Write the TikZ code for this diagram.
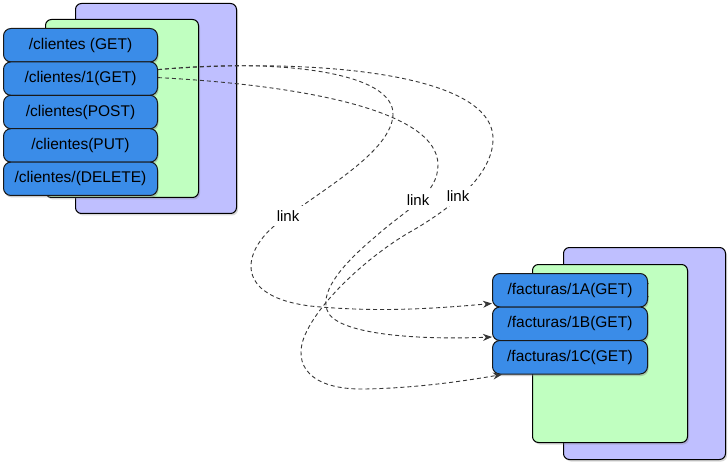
\documentclass[tikz,border=0pt]{standalone}
\usepackage{fontspec}
\setmainfont{Liberation Sans}
\usetikzlibrary{calc,shadows,arrows.meta}
\definecolor{lav}{RGB}{191,191,255}
\definecolor{mint}{RGB}{192,255,192}
\definecolor{blu}{RGB}{58,140,232}
\definecolor{lnk}{RGB}{55,55,55}
\begin{document}
\begin{tikzpicture}[x=1pt,y=-1pt,
  panel/.style={draw=black, line width=1pt, rounded corners=6pt, anchor=north west,
    inner sep=0pt, drop shadow={shadow xshift=1.5pt,shadow yshift=-2pt,opacity=0.3}},
  backpanel/.style={panel, fill=lav},
  frontpanel/.style={panel, fill=mint},
  opbox/.style={draw=black!90, line width=1pt, fill=blu, rounded corners=7.5pt,
    anchor=north west, inner sep=0pt, font=\fontsize{15.5}{18}\selectfont,
    drop shadow={shadow xshift=1pt,shadow yshift=-2pt,opacity=0.4}},
  lnkline/.style={draw=lnk, dash pattern=on 4pt off 3pt, line width=0.9pt},
  arr/.style={lnkline, -{Stealth[length=9pt,width=7pt]}},
  lbl/.style={font=\fontsize{15}{18}\selectfont, fill=white, inner sep=5pt}
]
\useasboundingbox (0,0) rectangle (728,465);
\fill[white] (0,0) rectangle (728,465);

% left group
\node[backpanel, minimum width=161pt, minimum height=210pt] (lp) at (75,3) {};
\node[frontpanel, minimum width=153pt, minimum height=178pt] (lg) at (45,19) {};
\node[opbox, minimum width=154pt, minimum height=33.4pt] (c1) at (3,28) {/clientes (GET)};
\node[opbox, minimum width=154pt, minimum height=33.4pt] (c2) at (3,61.4) {/clientes/1(GET)};
\node[opbox, minimum width=154pt, minimum height=33.4pt] (c3) at (3,94.8) {/clientes(POST)};
\node[opbox, minimum width=154pt, minimum height=33.4pt] (c4) at (3,128.2) {/clientes(PUT)};
\node[opbox, minimum width=154pt, minimum height=33.4pt] (c5) at (3,161.6) {/clientes/(DELETE)};

% right group
\node[backpanel, minimum width=162pt, minimum height=212pt] (rp) at (563,247) {};
\node[frontpanel, minimum width=155pt, minimum height=178pt] (rg) at (532,264) {};
\node[anchor=west, inner sep=0pt, font=\fontsize{15}{18}\selectfont] (stray) at (644,291) {(};
\node[opbox, minimum width=155pt, minimum height=33.5pt] (fA) at (492,273) {/facturas/1A(GET)};
\node[opbox, minimum width=155pt, minimum height=33.5pt] (fB) at (492,306.5) {/facturas/1B(GET)};
\node[opbox, minimum width=155pt, minimum height=33.5pt] (fC) at (492,340) {/facturas/1C(GET)};

% end points
\coordinate (sA) at ($(c2.east)+(0,-9)$);
\coordinate (sB) at ($(c2.east)+(0,-1)$);
\coordinate (eA) at ($(fA.south west)+(0,-4)$);
\coordinate (eB) at ($(fB.south west)+(0,-4)$);
\coordinate (eC) at ($(fC.south west)+(10,0)$);

% links
\draw[arr] (sA) .. controls (280,58) and (395,72) .. (393,115)
  .. controls (391,150) and (330,185) .. (288,216)
  .. controls (245,242) and (225,295) .. (310,306)
  .. controls (380,313) and (440,308) .. (eA);
\draw[arr] (sB) .. controls (300,85) and (438,110) .. (438,165)
  .. controls (438,195) and (405,210) .. (375,237)
  .. controls (345,262) and (320,290) .. (327,310)
  .. controls (335,335) and (420,340) .. (eB);
\draw[arr] (sA) .. controls (300,58) and (495,70) .. (493,140)
  .. controls (492,180) and (440,215) .. (410,232)
  .. controls (370,255) and (320,300) .. (305,335)
  .. controls (292,365) and (310,390) .. (365,389)
  .. controls (420,388) and (470,380) .. (eC);

% labels
\node[lbl] (l1) at (288,216) {link};
\node[lbl] (l2) at (418,200) {link};
\node[lbl] (l3) at (458,196) {link};
\end{tikzpicture}
\end{document}
